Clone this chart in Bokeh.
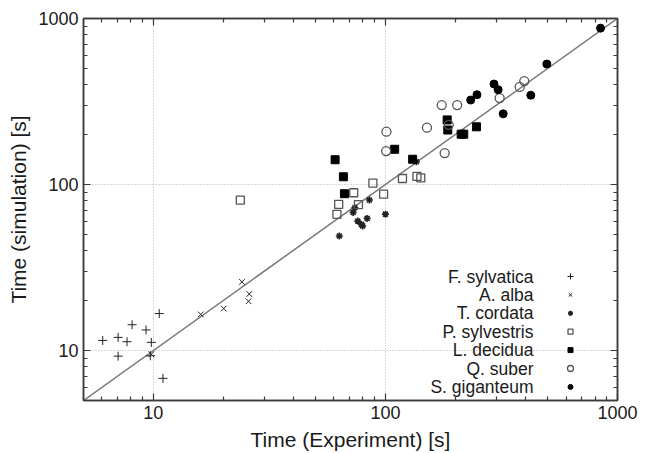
import numpy as np
from bokeh.plotting import figure
from bokeh.models import Range1d, LogAxis, FixedTicker, PrintfTickFormatter
from bokeh.embed import file_html
from bokeh.resources import INLINE
from bokeh.core.properties import value

# ---------------- data ----------------
fs_x = [6.05, 7.05, 7.7, 7.05, 8.1, 9.3, 9.8, 9.7, 10.6, 11.0]
fs_y = [11.5, 12.0, 11.3, 9.25, 14.3, 13.3, 11.2, 9.3, 16.7, 6.8]

aa_x = [9.8, 16.0, 20.1, 24.1, 25.9, 25.7]
aa_y = [9.5, 16.5, 17.9, 25.9, 21.9, 19.8]

tc_x = [63.3, 72.6, 73.8, 76.0, 78.8, 79.8, 83.4, 85.3, 100, 136]
tc_y = [49.0, 67.9, 72.4, 60.2, 57.5, 56.3, 62.5, 80.6, 66.3, 137]

ps_x = [23.7, 61.8, 62.9, 73.0, 76.5, 88.3, 98.2, 118.4, 136.7, 142]
ps_y = [80.6, 66.1, 75.9, 89.2, 75.6, 102, 87.6, 108.7, 111.8, 109.5]

ld_x = [60.7, 65.9, 66.6, 109.6, 131, 184.5, 185.6, 212, 217.5, 246.7]
ld_y = [141, 111.3, 88.0, 163, 142, 245, 213, 201, 201, 222.6]

qs_x = [100.7, 101, 151, 174.8, 180, 187.4, 203.8, 310.6, 379, 396.6]
qs_y = [159, 208, 220, 301, 154.6, 228.8, 301, 331.7, 387, 420]

sg_x = [233, 248, 293.6, 306, 321.7, 423, 496, 845]
sg_y = [322.7, 347.4, 403, 372.4, 266.7, 345, 532, 875]

species = ["F. sylvatica", "A. alba", "T. cordata", "P. sylvestris",
           "L. decidua", "Q. suber", "S. giganteum"]

axis_range = [5, 1000]
major_ticks = [10, 100, 1000]
grid_ticks = [10, 100]
minor_ticks = [6, 7, 8, 9, 20, 30, 40, 50, 60, 70, 80, 90,
               200, 300, 400, 500, 600, 700, 800, 900]

# ---------------- layout ----------------
W, H = 647, 453
FL, FT, FR, FB = 83, 18, 30, 53
FW, FH = W - FL - FR, H - FT - FB
FONT = "Liberation Sans"
AX = "#3a3a3a"

p = figure(width=W, height=H, x_axis_type="log", y_axis_type="log",
           x_range=Range1d(*axis_range), y_range=Range1d(*axis_range),
           output_backend="svg", toolbar_location=None,
           min_border_left=FL, min_border_right=FR,
           min_border_top=FT, min_border_bottom=FB)
p.background_fill_color = "white"
p.border_fill_color = "white"
p.outline_line_color = AX
p.outline_line_width = 1.5


def style_axis(ax, labels=True):
    ax.ticker = FixedTicker(ticks=major_ticks, minor_ticks=minor_ticks)
    ax.axis_line_color = AX
    ax.axis_line_width = 1.5
    ax.major_tick_in = 7
    ax.major_tick_out = 0
    ax.minor_tick_in = 4
    ax.minor_tick_out = 0
    ax.major_tick_line_color = AX
    ax.minor_tick_line_color = AX
    ax.major_tick_line_width = 1.2
    ax.minor_tick_line_width = 1.2
    ax.formatter = PrintfTickFormatter(format="%d")
    ax.major_label_text_font = FONT
    if labels:
        ax.major_label_text_font_size = "18px"
        ax.major_label_text_color = "#1a1a1a"
        ax.major_label_standoff = 5
        ax.axis_label_text_font = FONT
        ax.axis_label_text_font_size = "21px"
        ax.axis_label_text_font_style = "normal"
        ax.axis_label_text_color = "#1a1a1a"
    else:
        ax.major_label_text_font_size = "2px"
        ax.major_label_text_color = None
        ax.major_label_standoff = 0


style_axis(p.xaxis[0])
style_axis(p.yaxis[0])
p.xaxis[0].axis_label = "Time (Experiment) [s]"
p.yaxis[0].axis_label = "Time (simulation) [s]"
p.xaxis[0].axis_label_standoff = 6
p.yaxis[0].axis_label_standoff = 5

top = LogAxis()
style_axis(top, labels=False)
p.add_layout(top, "above")
right = LogAxis()
style_axis(right, labels=False)
p.add_layout(right, "right")

for g in (p.xgrid[0], p.ygrid[0]):
    g.ticker = FixedTicker(ticks=grid_ticks)
    g.grid_line_color = "#b0b0b0"
    g.grid_line_dash = "1 2"
    g.grid_line_width = 1

# identity line
p.line(axis_range, axis_range, line_color="#777777", line_width=1.5)

# ---------------- series ----------------
DK = "#222222"
OP = "#555555"
styles = [
    dict(marker="cross", size=9, line_color=DK, line_width=1, fill_color=None),
    dict(marker="x", size=8, line_color=DK, line_width=1, fill_color=None),
    dict(marker="asterisk", size=7, line_color=DK, line_width=1.6, fill_color=None),
    dict(marker="square", size=8, line_color=OP, line_width=1.3, fill_color=None),
    dict(marker="square", size=8, line_color="black", line_width=1, fill_color="black"),
    dict(marker="circle", size=9, line_color=OP, line_width=1.3, fill_color=None),
    dict(marker="circle", size=8, line_color="black", line_width=1, fill_color="black"),
]
series = [(fs_x, fs_y), (aa_x, aa_y), (tc_x, tc_y), (ps_x, ps_y),
          (ld_x, ld_y), (qs_x, qs_y), (sg_x, sg_y)]
for (xs, ys), st in zip(series, styles):
    p.scatter(xs, ys, **st)

# ---------------- legend (label right-aligned, symbol on the right) ----------------
lx0, lx1 = np.log10(axis_range[0]), np.log10(axis_range[1])


def px2x(px):
    return 10 ** (lx0 + (px - FL) / FW * (lx1 - lx0))


def py2y(py):
    return 10 ** (lx1 - (py - FT) / FH * (lx1 - lx0))


leg_text_px = 533
leg_mark_px = 570
leg_top_px = 276
leg_step = 18.4
for i, (name, st) in enumerate(zip(species, styles)):
    yy = py2y(leg_top_px + i * leg_step)
    p.text([px2x(leg_text_px)], [yy], text=[name], text_font=value(FONT),
           text_font_size="17.5px", text_align="right", text_baseline="middle",
           text_color="#1a1a1a")
    s2 = dict(st)
    s2["size"] = max(5, st["size"] - 3)
    p.scatter([px2x(leg_mark_px)], [yy], **s2)

open("out.html", "w").write(file_html(p, INLINE))
